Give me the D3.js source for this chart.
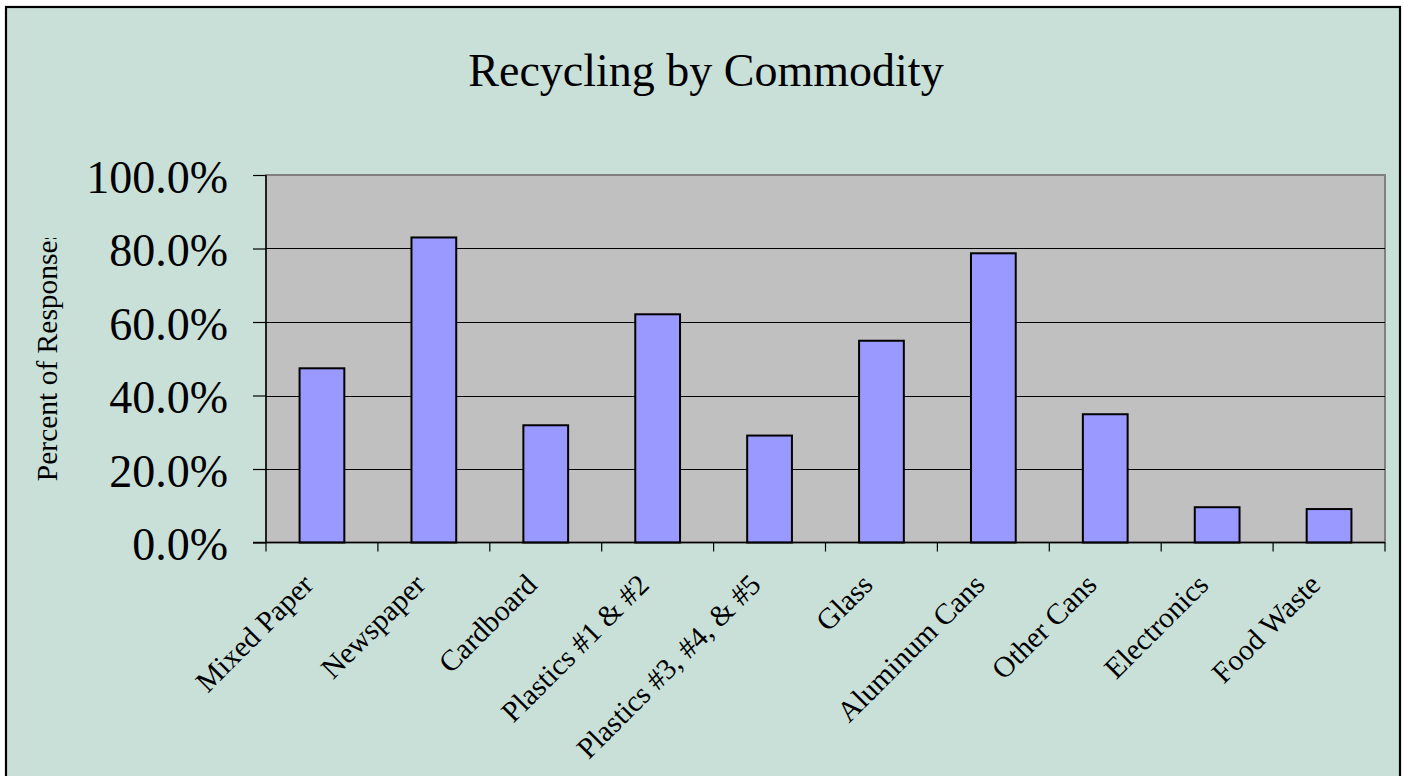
<!DOCTYPE html>
<html>
<head>
<meta charset="utf-8">
<script src="https://cdn.jsdelivr.net/npm/d3@7"></script>
<style>
  html, body { margin: 0; padding: 0; background: #ffffff; overflow: hidden; }
  svg { display: block; }
  text { font-family: "Liberation Serif", "Times New Roman", serif; fill: #000; }
</style>
</head>
<body>
<svg id="chart" width="1404" height="776"></svg>
<script>
const categories = ["Mixed Paper", "Newspaper", "Cardboard", "Plastics #1 & #2", "Plastics #3, #4, & #5",
                    "Glass", "Aluminum Cans", "Other Cans", "Electronics", "Food Waste"];
const values = [0.474, 0.830, 0.319, 0.621, 0.291, 0.549, 0.787, 0.349, 0.096, 0.091];
const yTicks = [0, 0.2, 0.4, 0.6, 0.8, 1.0];
const title = "Recycling by Commodity";
const yTitle = "Percent of Responses";

const svg = d3.select("#chart");

// chart area
svg.append("rect").attr("x", 6).attr("y", 7).attr("width", 1394).attr("height", 800)
  .attr("fill", "#C9E0D9").attr("stroke", "#000").attr("stroke-width", 2.2);

const plot = { left: 266, right: 1385, top: 175, bottom: 542.5 };

const x = d3.scaleBand().domain(categories).range([plot.left, plot.right]).paddingInner(0.6).paddingOuter(0.3);
const xb = d3.scaleBand().domain(categories).range([plot.left, plot.right]);
const y = d3.scaleLinear().domain([0, 1]).range([plot.bottom, plot.top]);

// plot area
svg.append("rect").attr("x", plot.left).attr("y", plot.top)
  .attr("width", plot.right - plot.left).attr("height", plot.bottom - plot.top)
  .attr("fill", "#C0C0C0").attr("stroke", "#808080").attr("stroke-width", 2);

// gridlines
svg.append("g").selectAll("line").data(yTicks.filter(d => d > 0 && d < 1)).join("line")
  .attr("x1", plot.left).attr("x2", plot.right)
  .attr("y1", d => Math.round(y(d)) + 0.5).attr("y2", d => Math.round(y(d)) + 0.5)
  .attr("stroke", "#000").attr("stroke-width", 1);

// bars
svg.append("g").selectAll("rect").data(categories).join("rect")
  .attr("x", d => x(d)).attr("width", x.bandwidth())
  .attr("y", (d, i) => y(values[i])).attr("height", (d, i) => y(0) - y(values[i]))
  .attr("fill", "#9999FF").attr("stroke", "#000").attr("stroke-width", 2);

// y axis
const yAxis = d3.axisLeft(y).tickValues(yTicks).tickSize(13).tickFormat(d3.format(".1%")).tickPadding(0);
const gy = svg.append("g").attr("transform", `translate(${plot.left},0)`).call(yAxis);
gy.select(".domain").attr("stroke", "#000").attr("stroke-width", 1.5).attr("d", `M0,${plot.top}V${plot.bottom}`);
gy.selectAll(".tick line").attr("stroke", "#000").attr("stroke-width", 1.2);
gy.selectAll(".tick text").attr("x", -38).attr("dy", null).attr("y", 17)
  .style("font-family", '"Liberation Serif", "Times New Roman", serif').style("font-size", "46px")
  .attr("text-anchor", "end").attr("fill", "#000");

// x axis line + boundary ticks
const bounds = categories.map(c => xb(c)).concat([plot.right]);
svg.append("line").attr("x1", plot.left - 13).attr("x2", plot.right).attr("y1", plot.bottom).attr("y2", plot.bottom)
  .attr("stroke", "#000").attr("stroke-width", 1.5);
svg.append("g").selectAll("line").data(bounds).join("line")
  .attr("x1", d => d).attr("x2", d => d).attr("y1", plot.bottom).attr("y2", plot.bottom + 9)
  .attr("stroke", "#000").attr("stroke-width", 1.2);

// x labels
svg.append("g").selectAll("text").data(categories).join("text")
  .attr("transform", d => `translate(${xb(d) + xb.bandwidth() / 2 - 7},${plot.bottom + 44}) rotate(-45)`)
  .attr("text-anchor", "end")
  .style("font-size", "29.5px")
  .text(d => d);

// title
svg.append("text").attr("x", 706).attr("y", 86).attr("text-anchor", "middle")
  .style("font-size", "46px").text(title);

// y title (clipped at top like the reference)
svg.append("clipPath").attr("id", "yclip").append("rect")
  .attr("x", 0).attr("y", 238).attr("width", 200).attr("height", 400);
svg.append("g").attr("clip-path", "url(#yclip)").append("text")
  .attr("transform", `translate(57,355) rotate(-90)`)
  .attr("text-anchor", "middle").style("font-size", "29.5px").text(yTitle);
</script>
</body>
</html>
